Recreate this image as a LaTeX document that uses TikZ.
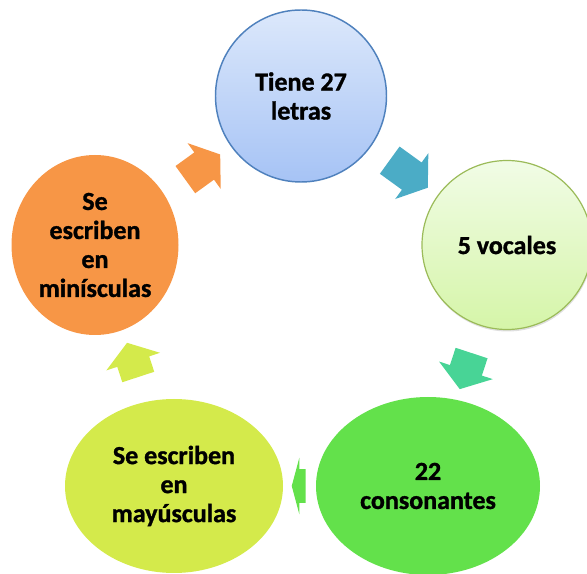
\documentclass[tikz,border=0pt]{standalone}
\usepackage{fontspec}
\setmainfont{Carlito}[BoldFont={Carlito Bold}, BoldFeatures={FakeBold=1.2}]
\usetikzlibrary{shapes.geometric}
\usetikzlibrary{shapes.arrows}
\usetikzlibrary{calc}
\usetikzlibrary{shadows}

\definecolor{letrasTop}{HTML}{DCE8FB}
\definecolor{letrasBot}{HTML}{A6C3F5}
\definecolor{letrasLine}{HTML}{4F81BD}
\definecolor{vocTop}{HTML}{F1FCE6}
\definecolor{vocBot}{HTML}{D5F5A8}
\definecolor{vocLine}{HTML}{9BBB59}
\definecolor{consGreen}{HTML}{63E14B}
\definecolor{mayYellow}{HTML}{D4EA4B}
\definecolor{minOrange}{HTML}{F79646}
\definecolor{arrTeal}{HTML}{4BACC6}
\definecolor{arrSea}{HTML}{48D496}

\begin{document}
\begin{tikzpicture}[x=0.75pt, y=-0.75pt,
    circ/.style 2 args={ellipse, minimum width=#1*0.75pt, minimum height=#2*0.75pt,
      inner sep=0pt, align=center, font=\fontsize{19.5}{21.75}\selectfont\bfseries},
    blockarrow/.style={single arrow, draw=none, inner xsep=0pt, inner ysep=12.4pt,
      minimum width=42pt, single arrow head extend=8.6pt, single arrow tip angle=110}]
            \useasboundingbox (0,0) rectangle (587,574);

            \node[circ={171}{172}, top color=letrasTop, bottom color=letrasBot,
              draw=letrasLine, line width=1.1pt] (letras) at (301,96) {Tiene 27\\letras};
            \node[circ={170}{169}, top color=vocTop, bottom color=vocBot,
              draw=vocLine, line width=0.9pt,
              drop shadow={opacity=0.25, shadow xshift=0.5pt, shadow yshift=-1.5pt}]
              (vocales) at (507,245) {5 vocales};
            \node[circ={224}{178}, fill=consGreen] (consonantes) at (428,486) {22\\consonantes};
            \node[circ={218}{174}, fill=mayYellow] (mayus) at (174,486) {Se escriben\\en\\mayúsculas};
            \node[circ={167}{180}, fill=minOrange] (minus) at (95,245) {Se\\escriben\\en\\minísculas};

            \path let \p1 = ($(vocales)-(letras)$), \n1 = {atan2(\y1,\x1)} in
              node[blockarrow, fill=arrTeal, minimum height=35.25pt, rotate=\n1]
              (a1) at ($(letras)!0.5!(vocales)$) {};
            \path let \p1 = ($(consonantes)-(vocales)$), \n1 = {atan2(\y1,\x1)} in
              node[blockarrow, fill=arrSea, minimum height=28.5pt, rotate=\n1]
              (a2) at ($(vocales)!0.5!(consonantes)$) {};
            \path let \p1 = ($(mayus)-(consonantes)$), \n1 = {atan2(\y1,\x1)} in
              node[blockarrow, fill=consGreen, minimum height=10.5pt, rotate=\n1,
                single arrow tip angle=150]
              (a3) at ($(consonantes)!0.5!(mayus)$) {};
            \path let \p1 = ($(minus)-(mayus)$), \n1 = {atan2(\y1,\x1)} in
              node[blockarrow, fill=mayYellow, minimum height=27pt, rotate=\n1]
              (a4) at ($(mayus)!0.5!(minus)$) {};
            \path let \p1 = ($(letras)-(minus)$), \n1 = {atan2(\y1,\x1)} in
              node[blockarrow, fill=minOrange, minimum height=32.25pt, rotate=\n1]
              (a5) at ($(minus)!0.5!(letras)$) {};
          \end{tikzpicture}
\end{document}
